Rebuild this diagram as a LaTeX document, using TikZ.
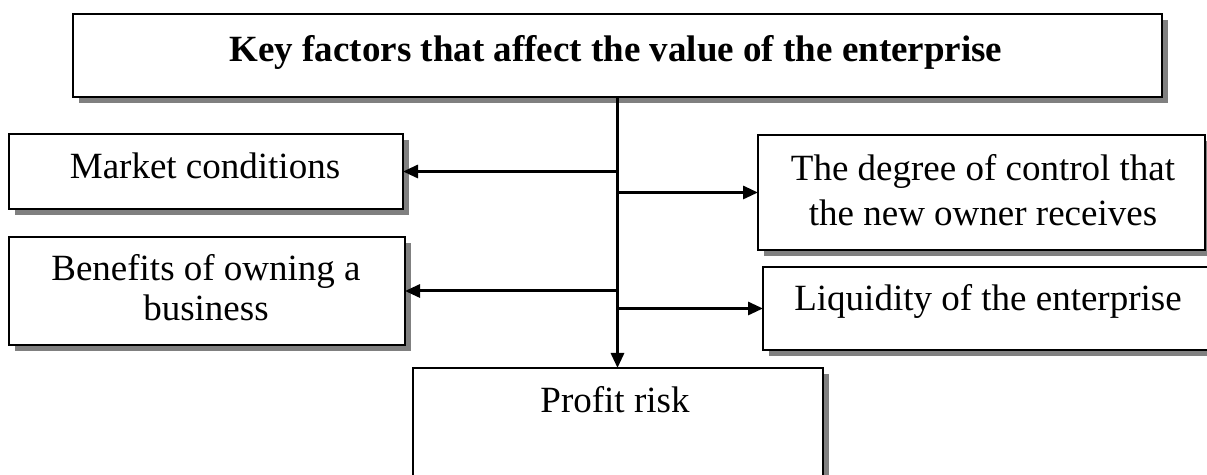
\documentclass[tikz,border=0pt]{standalone}
\usepackage{fontspec}
\setmainfont{Liberation Serif}
\usetikzlibrary{arrows.meta,shadows}

\tikzset{
  box/.style={draw, line width=1pt, fill=white, inner sep=0pt, outer sep=0pt,
    drop shadow={shadow xshift=3pt, shadow yshift=-3pt, fill=black!50, opacity=1}},
  txt/.style={anchor=base, inner sep=0pt, font=\fontsize{18.5}{22}\selectfont},
  ttl/.style={txt, font=\fontsize{18.5}{22}\selectfont\bfseries},
  link/.style={line width=1.5pt, -{Triangle[length=7.5pt,width=6.5pt]}}
}

\begin{document}
\begin{tikzpicture}[x=0.5pt, y=-0.5pt]
  \clip (0,0) rectangle (1207,475);
  \fill[white] (0,0) rectangle (1207,475);

  % boxes
  \node[box, minimum width=544.5pt, minimum height=41.5pt] (top) at (617.5,55.5) {};
  \node[box, minimum width=197pt, minimum height=37.5pt] (market) at (206,171.5) {};
  \node[box, minimum width=198pt, minimum height=54pt] (benefits) at (207,291) {};
  \node[box, minimum width=223.5pt, minimum height=57.5pt] (degree) at (981.5,192.5) {};
  \node[box, minimum width=224pt, minimum height=41.5pt] (liquidity) at (987,308.5) {};
  \node[box, minimum width=205pt, minimum height=60pt] (profit) at (617.5,428) {};

  % texts
  \node[ttl] (topT) at (616,62) {Key factors that affect the value of the enterprise};
  \node[txt] (marketT) at (205,179) {Market conditions};
  \node[txt] (benefitsT1) at (206,281) {Benefits of owning a};
  \node[txt] (benefitsT2) at (206,321) {business};
  \node[txt] (degreeT1) at (983,181) {The degree of control that};
  \node[txt] (degreeT2) at (983,226) {the new owner receives};
  \node[txt] (liquidityT) at (988,311) {Liquidity of the enterprise};
  \node[txt] (profitT) at (615,413) {Profit risk};

  % connectors
  \draw[link] (top.south) -- (profit.north);
  \draw[link] (top.south |- market.east) -- (market.east);
  \draw[link] (top.south |- degree.west) -- (degree.west);
  \draw[link] (top.south |- benefits.east) -- (benefits.east);
  \draw[link] (top.south |- liquidity.west) -- (liquidity.west);
\end{tikzpicture}
\end{document}
